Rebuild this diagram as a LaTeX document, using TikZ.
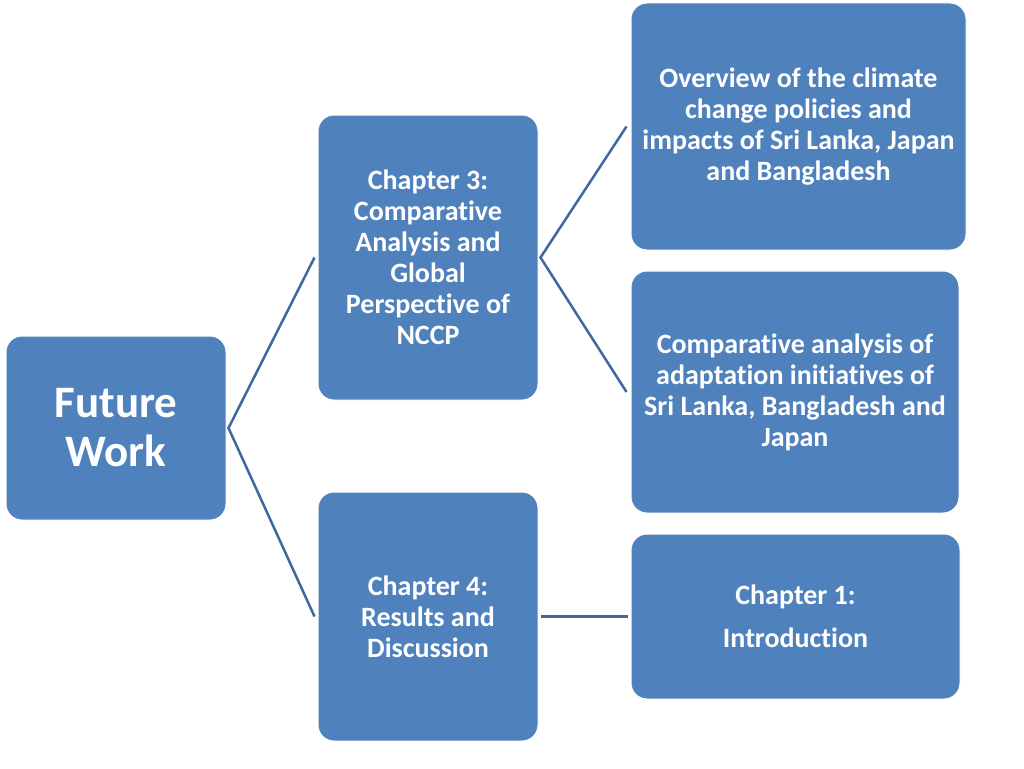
\documentclass[tikz,border=0pt]{standalone}
\usepackage{fontspec}
\setmainfont[Ligatures={NoCommon,NoRare}]{Carlito}
\definecolor{boxblue}{HTML}{4F81BD}
\definecolor{linkblue}{HTML}{3F689E}
\begin{document}
\begin{tikzpicture}[x=1pt,y=-1pt,
  box/.style={draw=white, line width=1pt, fill=boxblue, rounded corners=16pt,
    text=white, font=\bfseries\fontsize{28}{31}\selectfont, align=center, inner sep=0pt},
  link/.style={draw=linkblue, line width=2.5pt}]
\useasboundingbox (0,0) rectangle (1024,768);
\node[box, minimum width=220pt, minimum height=184pt,
  font=\bfseries\fontsize{45}{49}\selectfont] (fw) at (116,428) {Future\\Work};
\node[box, minimum width=220pt, minimum height=285pt] (ch3) at (428,257.5)
  {Chapter 3:\\Comparative\\Analysis and\\Global\\Perspective of\\NCCP};
\node[box, minimum width=220pt, minimum height=249pt] (ch4) at (428,616.5)
  {Chapter 4:\\Results and\\Discussion};
\node[box, minimum width=335pt, minimum height=247pt] (ov) at (798.5,126.5)
  {Overview of the climate\\change policies and\\impacts of Sri Lanka, Japan\\and Bangladesh};
\node[box, minimum width=328pt, minimum height=242pt] (ca) at (795,392)
  {Comparative analysis of\\adaptation initiatives of\\Sri Lanka, Bangladesh and\\Japan};
\node[box, minimum width=329pt, minimum height=165pt] (c1) at (795.5,616.5)
  {Chapter 1:\\[12pt]Introduction};
\draw[link] ([xshift=-3pt]ch3.west) -- ([xshift=2pt]fw.east) -- ([xshift=-3pt]ch4.west);
\draw[link] ([xshift=-4pt]ov.west) -- ([xshift=2pt]ch3.east) -- ([xshift=-4pt]ca.west);
\draw[link] ([xshift=2pt]ch4.east) -- ([xshift=-3pt]c1.west);
\end{tikzpicture}
\end{document}
